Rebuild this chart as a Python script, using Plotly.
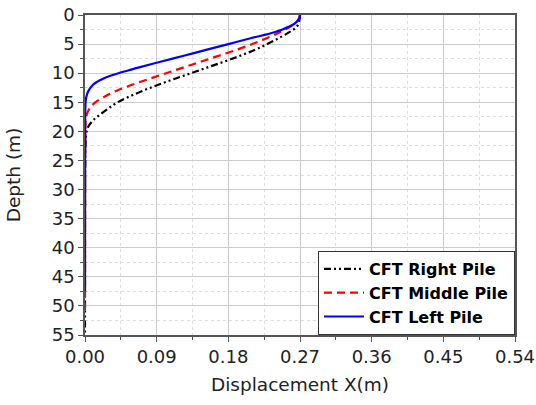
import plotly.graph_objects as go

# Right pile (black dash-dot-dot)
right_depth = [0, 1, 2, 3, 4, 5, 6, 7, 8, 9, 10, 11, 12, 13, 14, 15, 16, 17, 18, 19, 20, 22, 25, 30, 40, 55]
right_x = [0.27, 0.269, 0.266, 0.256, 0.243, 0.229, 0.213, 0.195, 0.175, 0.154, 0.133, 0.112, 0.092,
           0.073, 0.056, 0.041, 0.03, 0.02, 0.011, 0.005, 0.002, 0.0008, 0.0003, 0.0001, 0.0, 0.0]

# Middle pile (red dashed)
mid_depth = [0, 1, 2, 3, 4, 5, 6, 7, 8, 9, 10, 11, 12, 13, 14, 15, 16, 17, 18, 20, 25, 30, 40, 51.5]
mid_x = [0.27, 0.267, 0.258, 0.244, 0.228, 0.21, 0.19, 0.168, 0.146, 0.124, 0.102, 0.08, 0.059,
         0.04, 0.025, 0.013, 0.006, 0.0025, 0.001, 0.0005, 0.0002, 0.0001, 0.0, 0.0]

# Left pile (blue solid)
left_depth = [0, 0.5, 1, 1.5, 2, 2.5, 3, 4, 5, 6, 7, 8, 9, 9.5, 10, 10.5, 11, 11.5, 12, 13, 14, 15,
              20, 30, 40, 47.5]
left_x = [0.27, 0.2695, 0.267, 0.263, 0.256, 0.248, 0.237, 0.208, 0.18, 0.152, 0.124, 0.096, 0.068,
          0.055, 0.042, 0.031, 0.022, 0.015, 0.01, 0.0045, 0.0018, 0.0007, 0.0002, 0.0001, 0.0, 0.0]

x_ticks = [0.00, 0.09, 0.18, 0.27, 0.36, 0.45, 0.54]
y_ticks = [0, 5, 10, 15, 20, 25, 30, 35, 40, 45, 50, 55]

FONT = "DejaVu Sans"

fig = go.Figure()
fig.add_trace(go.Scatter(x=right_x, y=right_depth, mode="lines", name="CFT Right Pile",
                         line=dict(color="black", width=2.2, dash="7px,3px,2px,3px,2px,3px", shape="spline")))
fig.add_trace(go.Scatter(x=mid_x, y=mid_depth, mode="lines", name="CFT Middle Pile",
                         line=dict(color="red", width=2.2, dash="8px,5px", shape="spline")))
fig.add_trace(go.Scatter(x=left_x, y=left_depth, mode="lines", name="CFT Left Pile",
                         line=dict(color="blue", width=2.2, shape="spline")))

axis_common = dict(
    showline=True, mirror=True, linecolor="#555555", linewidth=1.5,
    showgrid=True, gridcolor="#cccccc", gridwidth=1,
    ticks="outside", ticklen=5, tickcolor="#555555", tickwidth=1,
    zeroline=False, automargin=False, ticklabeloverflow="allow",
    tickfont=dict(family=FONT, size=18, color="#222222"),
)

fig.update_layout(
    width=536, height=405,
    margin=dict(l=85, r=21, t=15, b=70),
    plot_bgcolor="white", paper_bgcolor="white",
    font=dict(family=FONT, color="#222222"),
    xaxis=dict(range=[0, 0.54], tickvals=x_ticks, tickformat=".2f",
               title=dict(text="Displacement X(m)", font=dict(size=18.5), standoff=12),
               minor=dict(dtick=0.045, tick0=0, showgrid=True, gridcolor="#dddddd", griddash="dot",
                          ticks="outside", ticklen=3, tickcolor="#555555"),
               **axis_common),
    yaxis=dict(range=[55, 0], tickvals=y_ticks,
               title=dict(text="Depth (m)", font=dict(size=18.5), standoff=26),
               minor=dict(dtick=2.5, tick0=0, showgrid=True, gridcolor="#dddddd", griddash="dot",
                          ticks="outside", ticklen=3, tickcolor="#555555"),
               **axis_common),
    legend=dict(x=1, xanchor="right", y=0, yanchor="bottom",
                bgcolor="white", bordercolor="#333333", borderwidth=1,
                font=dict(family=FONT, size=16, color="black", weight="bold"),
                itemwidth=40, tracegroupgap=0),
    showlegend=True,
)

fig.write_html("out.html")
